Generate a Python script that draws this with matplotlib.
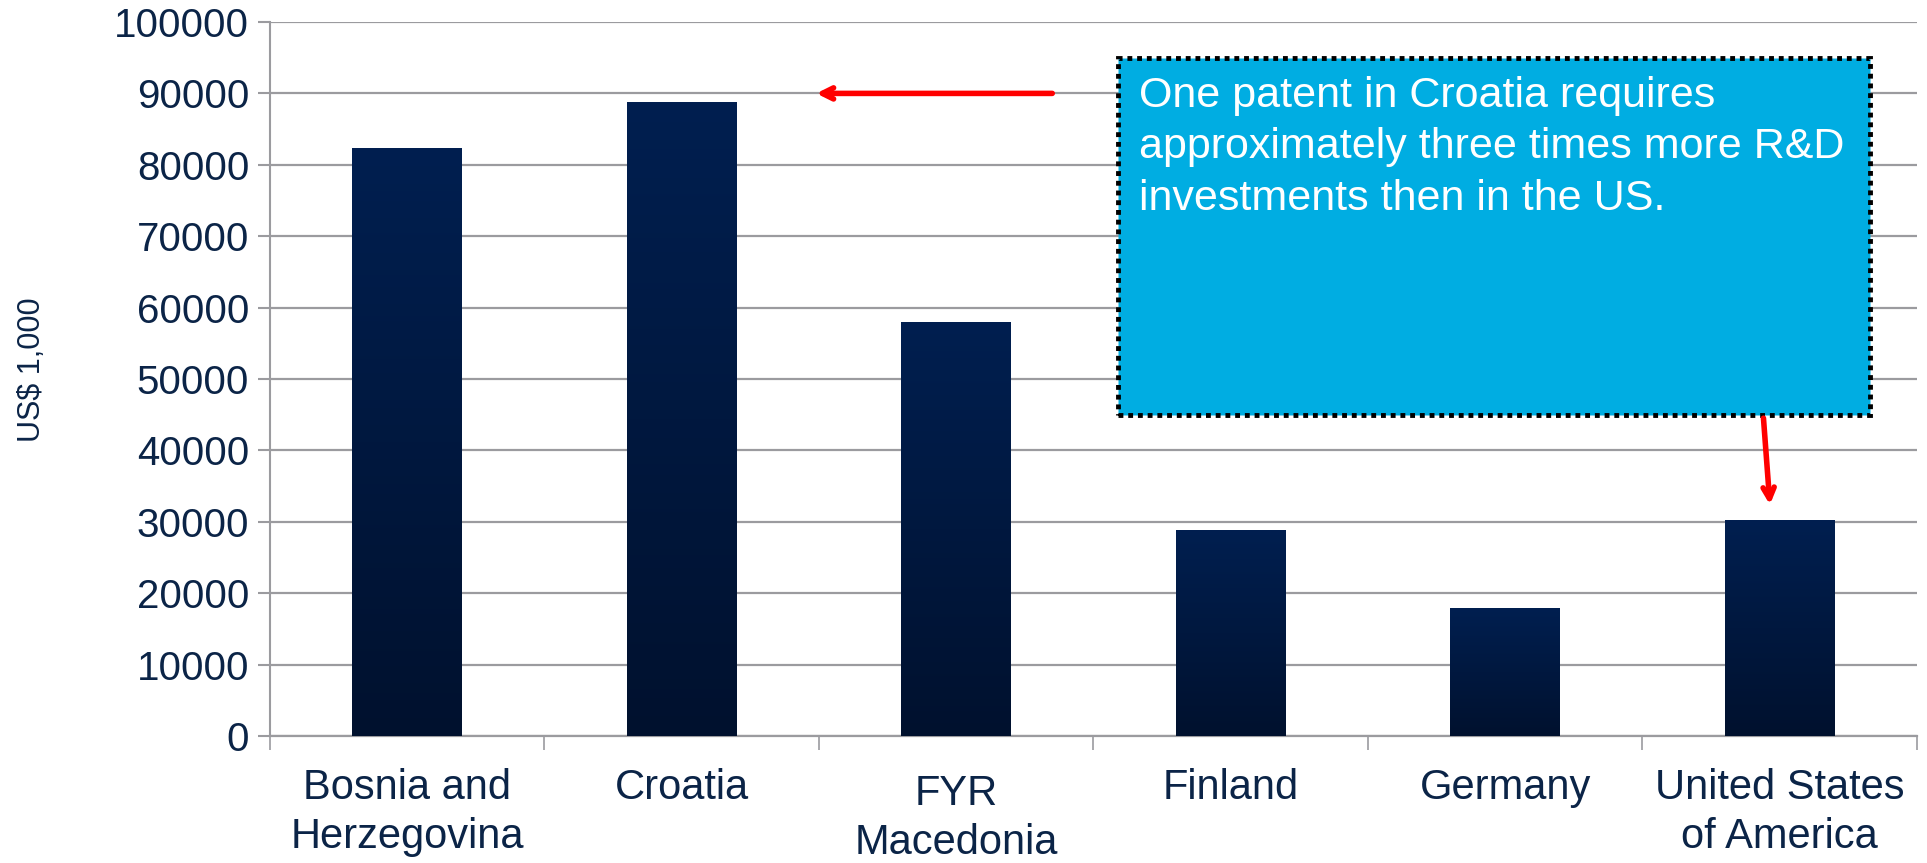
import numpy as np
import matplotlib
matplotlib.use('Agg')
import matplotlib.pyplot as plt
from matplotlib.patches import FancyBboxPatch
from matplotlib.transforms import ScaledTranslation

countries = ['Bosnia and\nHerzegovina', 'Croatia', 'FYR\nMacedonia', 'Finland',
             'Germany', 'United States\nof America']
values = [82300, 88800, 58000, 28900, 17900, 30300]
yticks = list(range(0, 100001, 10000))
note = ('One patent in Croatia requires\n'
        'approximately three times more R&D\n'
        'investments then in the US.')

text_color = '#0b2447'
grid_color = '#9b9b9f'

plt.rcParams['font.family'] = ['Liberation Sans', 'DejaVu Sans']

fig = plt.figure(figsize=(19.27, 8.63), dpi=100)
ax = fig.add_axes([0.1401, 0.1472, 0.8547, 0.8273])

x = np.arange(len(countries))
bars = ax.bar(x, values, width=0.4, color='#011c4b', zorder=3)

# vertical gradient on each bar
grad = np.linspace(0, 1, 256).reshape(-1, 1)
cmap = matplotlib.colors.LinearSegmentedColormap.from_list('navy', ['#00112e', '#011f50'])
for b in bars:
    im = ax.imshow(grad, cmap=cmap, aspect='auto', origin='lower',
                   extent=[b.get_x(), b.get_x() + b.get_width(), 0, b.get_height()],
                   zorder=3.5)
    im.set_clip_path(b)

ax.set_xlim(-0.5, len(countries) - 0.5)
ax.set_ylim(0, 100000)
ax.set_yticks(yticks)
ax.set_yticklabels([str(v) for v in yticks])
ax.yaxis.grid(True, color=grid_color, lw=1.6, zorder=0)
ax.set_axisbelow(True)

ax.set_xticks(x)
labels = ax.set_xticklabels(countries, fontsize=30, color=text_color, linespacing=1.3)
ax.set_xticks(np.arange(-0.5, len(countries)), minor=True)
ax.tick_params(axis='x', which='major', length=0, pad=23)
ax.tick_params(axis='x', which='minor', length=10, width=1.2, color=grid_color)
ax.tick_params(axis='y', length=9, width=1.5, color=grid_color, labelsize=29,
               labelcolor=text_color, pad=6)
# the FYR label sits a little lower in the original
labels[2].set_transform(labels[2].get_transform()
                        + ScaledTranslation(0, -0.06, fig.dpi_scale_trans))

for s in ['top', 'right']:
    ax.spines[s].set_visible(False)
ax.spines['left'].set_color(grid_color)
ax.spines['left'].set_linewidth(1.5)
ax.spines['bottom'].set_color(grid_color)
ax.spines['bottom'].set_linewidth(1.6)

fig.text(0.0165, 0.572, 'US$ 1,000', rotation=90, fontsize=22,
         color=text_color, ha='center', va='center')

# callout box
box = FancyBboxPatch((2.59, 44900), 2.74, 50100, boxstyle='square,pad=0',
                     facecolor='#00ade2', edgecolor='black', lw=3.5,
                     linestyle=(0, (1, 1)), zorder=5, clip_on=False)
ax.add_patch(box)
ax.text(2.665, 92400, note, color='white', fontsize=31, va='top', ha='left',
        linespacing=1.36, zorder=6)

# red arrows
arrow_kw = dict(arrowstyle='->,head_length=0.8,head_width=0.4', color='#ff0000', lw=4)
ax.annotate('', xy=(1.48, 90000), xytext=(2.36, 90000), arrowprops=arrow_kw, zorder=6)
ax.annotate('', xy=(4.965, 32000), xytext=(4.94, 44900), arrowprops=arrow_kw, zorder=6)

fig.savefig('out.png', dpi=100, facecolor='white')
